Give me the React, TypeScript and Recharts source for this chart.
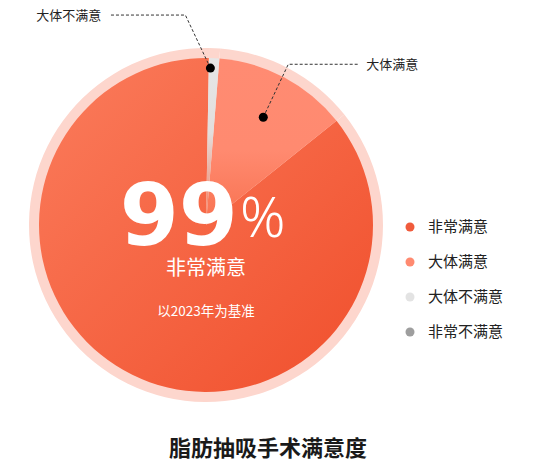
import { PieChart, Pie, Cell } from 'recharts'

const categories = ['非常满意', '大体满意', '大体不满意', '非常不满意']
const values = [86, 13, 1, 0]
const legendColors = ['#F05B3C', '#FF8A70', '#E3E3E3', '#9E9E9E']
const fills = ['url(#gMain)', 'url(#gGood)', 'url(#gFair)', '#9E9E9E']
// which slices get a callout: text side, dot inset from rim, angle nudge, line lengths
const callouts: Record<string, { side: number; inset: number; nudge: number; rise: number; run: number }> = {
  '大体满意': { side: 1, inset: 45, nudge: 0, rise: 53, run: 70 },
  '大体不满意': { side: -1, inset: 10, nudge: 1.2, rise: 53, run: 76 },
}

const data = categories.map((name, i) => ({ name, value: values[i] }))

const RAD = Math.PI / 180

function Callout(props: any) {
  const { cx, cy, midAngle, outerRadius, name } = props
  const c = callouts[name]
  if (!c) return null
  const r = outerRadius - c.inset
  const a = (midAngle + c.nudge) * RAD
  const x = cx + r * Math.cos(-a)
  const y = cy + r * Math.sin(-a)
  const ex = x + c.side * 25
  const ey = y - c.rise
  const hx = ex + c.side * c.run
  return (
    <g>
      <polyline
        points={`${x},${y} ${ex},${ey} ${hx},${ey}`}
        fill="none"
        stroke="#333"
        strokeWidth={1}
        strokeDasharray="3 2"
      />
      <circle cx={x} cy={y} r={4.5} fill="#000" />
      <text
        x={hx + c.side * 8}
        y={ey + 5}
        textAnchor={c.side > 0 ? 'start' : 'end'}
        fontSize={13}
        fill="#222"
        fontFamily="Noto Sans CJK SC"
      >
        {name}
      </text>
    </g>
  )
}

export default function App() {
  const cx = 206
  const cy = 225
  return (
    <div style={{ position: 'absolute', left: 0, top: 0, width: 536, height: 461 }}>
      <PieChart width={536} height={461} margin={{ top: 0, right: 0, bottom: 0, left: 0 }}>
        <defs>
          <linearGradient id="gMain" x1="0" y1="0" x2="1" y2="1">
            <stop offset="0%" stopColor="#FB7C5C" />
            <stop offset="100%" stopColor="#F04F2C" />
          </linearGradient>
          <linearGradient id="gGood" x1="0" y1="0" x2="0" y2="1">
            <stop offset="0%" stopColor="#FF8B72" />
            <stop offset="55%" stopColor="#FF8A70" />
            <stop offset="100%" stopColor="#F8714F" />
          </linearGradient>
          <linearGradient id="gFair" x1="0" y1="0" x2="0" y2="1">
            <stop offset="0%" stopColor="#E6E6E6" />
            <stop offset="45%" stopColor="#E2DEDD" />
            <stop offset="100%" stopColor="#F8724F" />
          </linearGradient>
        </defs>
        <Pie
          data={data}
          dataKey="value"
          cx={cx}
          cy={cy}
          outerRadius={177}
          startAngle={89}
          endAngle={449}
          stroke="none"
          fill="#FDD6CD"
          isAnimationActive={false}
        />
        <Pie
          data={data}
          dataKey="value"
          cx={cx}
          cy={cy}
          outerRadius={167}
          startAngle={89}
          endAngle={449}
          stroke="none"
          labelLine={false}
          label={Callout}
          isAnimationActive={false}
        >
          {data.map((d, i) => (
            <Cell key={d.name} fill={fills[i]} />
          ))}
        </Pie>
      </PieChart>
      <svg
        width={536}
        height={461}
        style={{ position: 'absolute', left: 0, top: 0, pointerEvents: 'none' }}
      >
        <text
          x={238}
          y={245}
          textAnchor="end"
          fill="#fff"
          fontSize={85}
          fontWeight={700}
          fontFamily="DejaVu Sans"
        >
          99
        </text>
        <text
          x={240}
          y={237}
          textAnchor="start"
          fill="#fff"
          fontSize={56}
          fontWeight={300}
          fontFamily="Noto Sans"
        >
          %
        </text>
        <text x={cx} y={275} textAnchor="middle" fill="#fff" fontSize={20} fontFamily="Noto Sans CJK SC">
          {categories[0]}
        </text>
        <text x={cx} y={316} textAnchor="middle" fill="#fff" fontSize={13.5} fontFamily="Noto Sans CJK SC">
          以2023年为基准
        </text>
        {categories.map((name, i) => (
          <g key={name}>
            <circle cx={410} cy={227 + i * 35} r={4.5} fill={legendColors[i]} />
            <text x={428} y={232 + i * 35} fontSize={15} fill="#222" fontFamily="Noto Sans CJK SC">
              {name}
            </text>
          </g>
        ))}
        <text
          x={268}
          y={456}
          textAnchor="middle"
          fontSize={22}
          fontWeight={700}
          fill="#1a1a1a"
          fontFamily="Noto Sans CJK SC"
        >
          脂肪抽吸手术满意度
        </text>
      </svg>
    </div>
  )
}
